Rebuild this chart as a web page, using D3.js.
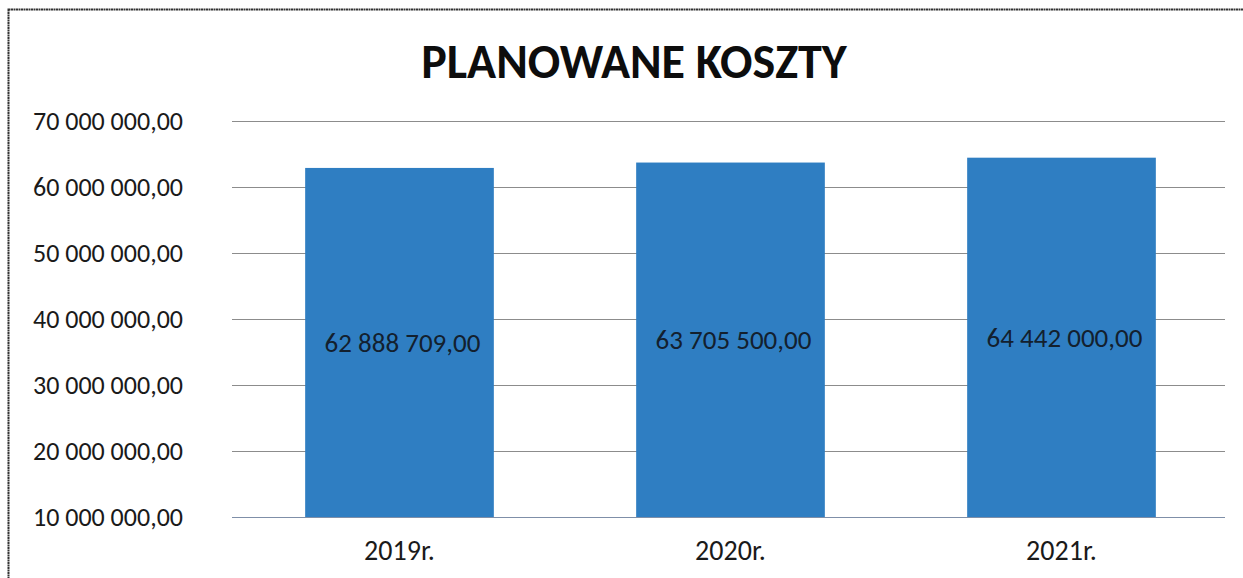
<!DOCTYPE html>
<html><head><meta charset="utf-8">
<script src="https://cdn.jsdelivr.net/npm/d3@7"></script>
<style>html,body{margin:0;padding:0;background:#fff;}svg{display:block;}</style>
</head><body>
<svg id="chart" width="1243" height="578"></svg>
<script>
const categories = ["2019r.", "2020r.", "2021r."];
const values = [62888709.00, 63705500.00, 64442000.00];
const yTicks = [10000000, 20000000, 30000000, 40000000, 50000000, 60000000, 70000000];
const title = "PLANOWANE KOSZTY";

const font = "Carlito, Calibri, Lato, sans-serif";
const svg = d3.select("#chart");
const W = 1243, H = 578;

// border
svg.append("rect").attr("x", 8.5).attr("y", 9.5).attr("width", W + 10).attr("height", H + 10)
  .attr("fill", "none").attr("stroke", "#333").attr("stroke-width", 2).attr("stroke-dasharray", "2,0.5");

const x = d3.scaleBand().domain(categories).range([232, 1225]).paddingInner(0.43).paddingOuter(0.215);
const y = d3.scaleLinear().domain([10000000, 70000000]).range([517, 121]);

function fmt(v) {
  const parts = v.toFixed(2).split(".");
  return parts[0].replace(/\B(?=(\d{3})+(?!\d))/g, " ") + "," + parts[1];
}

// gridlines
svg.append("g").selectAll("line").data(yTicks).join("line")
  .attr("x1", 232).attr("x2", 1225)
  .attr("y1", d => Math.round(y(d)) + 0.5).attr("y2", d => Math.round(y(d)) + 0.5)
  .attr("stroke", (d, i) => i === 0 ? "#7f8fa8" : "#8c8c8c").attr("stroke-width", 1);

// y labels
const yAxis = d3.axisLeft(y).tickValues(yTicks).tickFormat(fmt).tickSize(0).tickPadding(0);
const yg = svg.append("g").attr("transform", "translate(183,0)").call(yAxis);
yg.select(".domain").remove();
yg.selectAll("text").attr("font-family", font).attr("font-size", 26).attr("fill", "#1a1a1a");

// bars
svg.append("g").selectAll("rect").data(values).join("rect")
  .attr("x", (d, i) => x(categories[i]) + 2)
  .attr("width", x.bandwidth())
  .attr("y", d => y(d))
  .attr("height", d => y(10000000) - y(d))
  .attr("fill", "#2f7ec2");

// bar labels
svg.append("g").selectAll("text").data(values).join("text")
  .attr("x", (d, i) => x(categories[i]) + 2 + x.bandwidth() / 2 + 3)
  .attr("y", d => (y(d) + y(10000000)) / 2)
  .attr("dy", "0.36em")
  .attr("text-anchor", "middle")
  .attr("font-family", font).attr("font-size", 27).attr("fill", "#13202e")
  .text(fmt);

// x labels
const xAxis = d3.axisBottom(x).tickSize(0).tickPadding(0);
const xg = svg.append("g").attr("transform", "translate(2,540)").call(xAxis);
xg.select(".domain").remove();
xg.selectAll("text").attr("font-family", font).attr("font-size", 28).attr("fill", "#1a1a1a");

// title
svg.append("text").attr("x", 634).attr("y", 78).attr("text-anchor", "middle")
  .attr("font-family", font).attr("font-weight", "bold").attr("font-size", 48).attr("fill", "#0d0d0d")
  .text(title);
</script>
</body></html>
